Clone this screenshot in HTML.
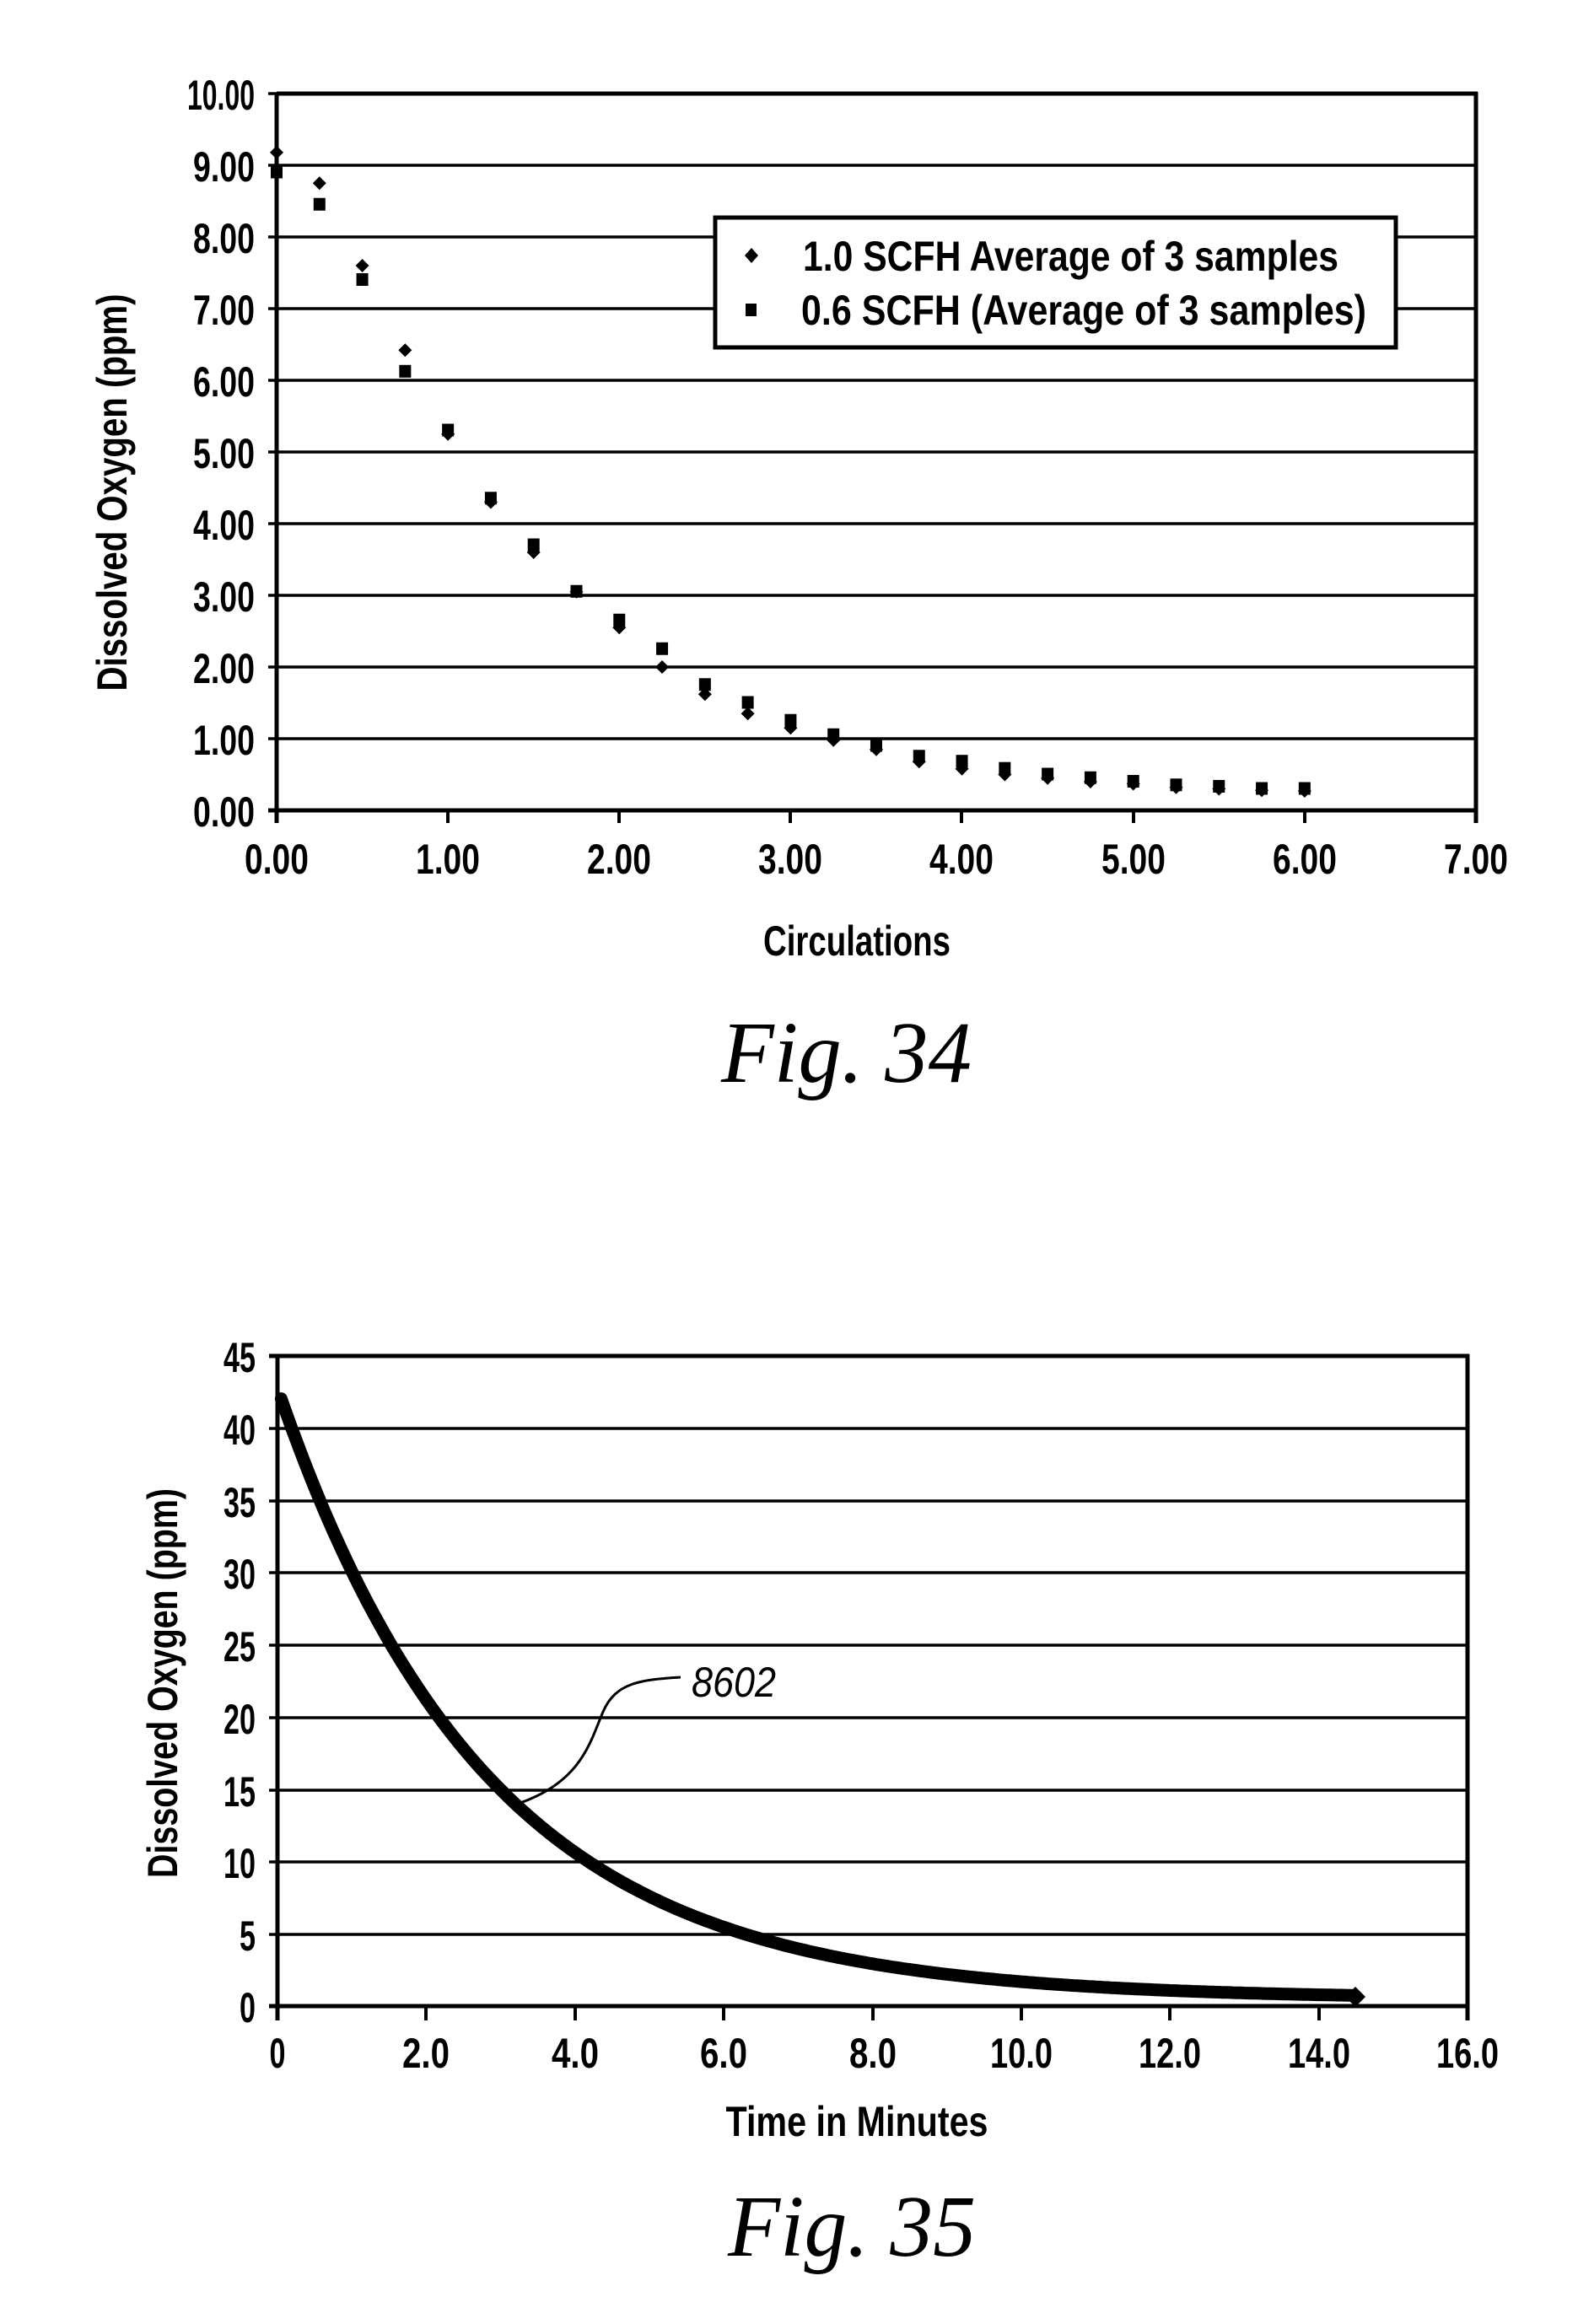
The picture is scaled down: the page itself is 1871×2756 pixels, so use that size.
<!DOCTYPE html>
<html><head><meta charset="utf-8"><style>
html,body{margin:0;padding:0;background:#fff;}
svg{display:block;}
text{font-family:"Liberation Sans",sans-serif;fill:#000;font-weight:bold;}
.it{font-family:"Liberation Serif",serif;font-style:italic;font-weight:normal;}
</style></head><body>
<svg width="1871" height="2756" viewBox="0 0 1871 2756" xmlns="http://www.w3.org/2000/svg">
<g id="c1" stroke="#000" fill="none">
<g stroke-width="3.5">
<line x1="318" y1="196" x2="1750" y2="196"/><line x1="318" y1="281" x2="1750" y2="281"/>
<line x1="318" y1="366" x2="1750" y2="366"/><line x1="318" y1="451" x2="1750" y2="451"/>
<line x1="318" y1="536" x2="1750" y2="536"/><line x1="318" y1="621" x2="1750" y2="621"/>
<line x1="318" y1="706" x2="1750" y2="706"/><line x1="318" y1="791" x2="1750" y2="791"/>
<line x1="318" y1="876" x2="1750" y2="876"/><line x1="318" y1="111" x2="328" y2="111"/>
</g>
<g stroke-width="5">
<line x1="318" y1="961" x2="1750" y2="961"/>
<line x1="328" y1="111" x2="328" y2="976"/>
<line x1="328" y1="111" x2="1752" y2="111"/>
<line x1="1750" y1="109" x2="1750" y2="976"/>
</g>
<g stroke-width="4">
<line x1="531" y1="961" x2="531" y2="976"/><line x1="734" y1="961" x2="734" y2="976"/>
<line x1="937" y1="961" x2="937" y2="976"/><line x1="1140" y1="961" x2="1140" y2="976"/>
<line x1="1344" y1="961" x2="1344" y2="976"/><line x1="1547" y1="961" x2="1547" y2="976"/>
</g>
<rect x="848" y="258" width="807" height="154" fill="#fff" stroke-width="5"/>
</g>
<g font-size="50">
<text x="302" y="130" text-anchor="end" textLength="80" lengthAdjust="spacingAndGlyphs">10.00</text>
<text x="302" y="215" text-anchor="end" textLength="73" lengthAdjust="spacingAndGlyphs">9.00</text>
<text x="302" y="300" text-anchor="end" textLength="73" lengthAdjust="spacingAndGlyphs">8.00</text>
<text x="302" y="385" text-anchor="end" textLength="73" lengthAdjust="spacingAndGlyphs">7.00</text>
<text x="302" y="470" text-anchor="end" textLength="73" lengthAdjust="spacingAndGlyphs">6.00</text>
<text x="302" y="555" text-anchor="end" textLength="73" lengthAdjust="spacingAndGlyphs">5.00</text>
<text x="302" y="640" text-anchor="end" textLength="73" lengthAdjust="spacingAndGlyphs">4.00</text>
<text x="302" y="725" text-anchor="end" textLength="73" lengthAdjust="spacingAndGlyphs">3.00</text>
<text x="302" y="810" text-anchor="end" textLength="73" lengthAdjust="spacingAndGlyphs">2.00</text>
<text x="302" y="895" text-anchor="end" textLength="73" lengthAdjust="spacingAndGlyphs">1.00</text>
<text x="302" y="980" text-anchor="end" textLength="73" lengthAdjust="spacingAndGlyphs">0.00</text>
<g text-anchor="middle">
<text x="328" y="1036" textLength="76" lengthAdjust="spacingAndGlyphs">0.00</text>
<text x="531" y="1036" textLength="76" lengthAdjust="spacingAndGlyphs">1.00</text>
<text x="734" y="1036" textLength="76" lengthAdjust="spacingAndGlyphs">2.00</text>
<text x="937" y="1036" textLength="76" lengthAdjust="spacingAndGlyphs">3.00</text>
<text x="1140" y="1036" textLength="76" lengthAdjust="spacingAndGlyphs">4.00</text>
<text x="1344" y="1036" textLength="76" lengthAdjust="spacingAndGlyphs">5.00</text>
<text x="1547" y="1036" textLength="76" lengthAdjust="spacingAndGlyphs">6.00</text>
<text x="1750" y="1036" textLength="76" lengthAdjust="spacingAndGlyphs">7.00</text>
</g>
<text x="1016" y="1133" text-anchor="middle" textLength="222" lengthAdjust="spacingAndGlyphs">Circulations</text>
<text transform="translate(150,584) rotate(-90)" text-anchor="middle" textLength="471" lengthAdjust="spacingAndGlyphs">Dissolved  Oxygen  (ppm)</text>
<text x="952" y="321" textLength="635" lengthAdjust="spacingAndGlyphs">1.0  SCFH  Average  of  3  samples</text>
<text x="950" y="385" textLength="670" lengthAdjust="spacingAndGlyphs">0.6  SCFH  (Average  of  3  samples)</text>
</g>
<path d="M891,294 l8,9 l-8,9 l-8,-9z"/>
<rect x="884" y="360" width="13" height="15"/>
<g id="pts"></g>
<text class="it" x="855" y="1283" font-size="104" textLength="297" lengthAdjust="spacingAndGlyphs">Fig.  34</text>

<g stroke="#000" fill="none">
<g stroke-width="3.5">
<line x1="319" y1="1694" x2="1740" y2="1694"/><line x1="319" y1="1780" x2="1740" y2="1780"/>
<line x1="319" y1="1865" x2="1740" y2="1865"/><line x1="319" y1="1951" x2="1740" y2="1951"/>
<line x1="319" y1="2037" x2="1740" y2="2037"/><line x1="319" y1="2123" x2="1740" y2="2123"/>
<line x1="319" y1="2208" x2="1740" y2="2208"/><line x1="319" y1="2294" x2="1740" y2="2294"/>
</g>
<g stroke-width="5">
<line x1="319" y1="1608" x2="1742" y2="1608"/>
<line x1="319" y1="2379" x2="1742" y2="2379"/>
<line x1="329" y1="1606" x2="329" y2="2396"/>
<line x1="1740" y1="1606" x2="1740" y2="2396"/>
</g>
<g stroke-width="4">
<line x1="505" y1="2379" x2="505" y2="2396"/><line x1="682" y1="2379" x2="682" y2="2396"/>
<line x1="858" y1="2379" x2="858" y2="2396"/><line x1="1035" y1="2379" x2="1035" y2="2396"/>
<line x1="1211" y1="2379" x2="1211" y2="2396"/><line x1="1387" y1="2379" x2="1387" y2="2396"/>
<line x1="1564" y1="2379" x2="1564" y2="2396"/>
</g>
<path id="curve" stroke-width="15" stroke-linejoin="round" stroke-linecap="round" d=""/>
<path stroke-width="3" d="M617,2138 C690,2112 700,2065 715,2030 S760,1992 807,1989"/>
</g>
<g font-size="50">
<g text-anchor="end">
<text x="303" y="1627" textLength="38" lengthAdjust="spacingAndGlyphs">45</text>
<text x="303" y="1713" textLength="38" lengthAdjust="spacingAndGlyphs">40</text>
<text x="303" y="1799" textLength="38" lengthAdjust="spacingAndGlyphs">35</text>
<text x="303" y="1884" textLength="38" lengthAdjust="spacingAndGlyphs">30</text>
<text x="303" y="1970" textLength="38" lengthAdjust="spacingAndGlyphs">25</text>
<text x="303" y="2056" textLength="38" lengthAdjust="spacingAndGlyphs">20</text>
<text x="303" y="2142" textLength="38" lengthAdjust="spacingAndGlyphs">15</text>
<text x="303" y="2227" textLength="38" lengthAdjust="spacingAndGlyphs">10</text>
<text x="303" y="2313" textLength="19" lengthAdjust="spacingAndGlyphs">5</text>
<text x="303" y="2398" textLength="19" lengthAdjust="spacingAndGlyphs">0</text>
</g>
<g text-anchor="middle">
<text x="329" y="2452" textLength="19" lengthAdjust="spacingAndGlyphs">0</text>
<text x="505" y="2452" textLength="56" lengthAdjust="spacingAndGlyphs">2.0</text>
<text x="682" y="2452" textLength="56" lengthAdjust="spacingAndGlyphs">4.0</text>
<text x="858" y="2452" textLength="56" lengthAdjust="spacingAndGlyphs">6.0</text>
<text x="1035" y="2452" textLength="56" lengthAdjust="spacingAndGlyphs">8.0</text>
<text x="1211" y="2452" textLength="74" lengthAdjust="spacingAndGlyphs">10.0</text>
<text x="1387" y="2452" textLength="74" lengthAdjust="spacingAndGlyphs">12.0</text>
<text x="1564" y="2452" textLength="74" lengthAdjust="spacingAndGlyphs">14.0</text>
<text x="1740" y="2452" textLength="74" lengthAdjust="spacingAndGlyphs">16.0</text>
</g>
<text x="1016" y="2533" text-anchor="middle" textLength="311" lengthAdjust="spacingAndGlyphs">Time  in  Minutes</text>
<text transform="translate(210,1996) rotate(-90)" text-anchor="middle" textLength="462" lengthAdjust="spacingAndGlyphs">Dissolved  Oxygen  (ppm)</text>
</g>
<text x="820" y="2012" font-size="50" font-style="italic" style="font-weight:normal" textLength="100" lengthAdjust="spacingAndGlyphs">8602</text>
<path d="M1607,2356 l12,12 l-12,12 l-12,-12z"/>
<text class="it" x="863" y="2675" font-size="104" textLength="294" lengthAdjust="spacingAndGlyphs">Fig.  35</text>
</svg>
<script>
(function(){
var ns="http://www.w3.org/2000/svg";
var d=[9.18,8.75,7.6,6.42,5.25,4.3,3.6,3.05,2.55,2.0,1.62,1.35,1.15,0.98,0.85,0.68,0.58,0.5,0.45,0.4,0.37,0.32,0.3,0.28,0.27];
var s=[8.9,8.45,7.4,6.12,5.3,4.35,3.7,3.05,2.65,2.25,1.75,1.5,1.25,1.05,0.9,0.75,0.68,0.58,0.5,0.45,0.4,0.35,0.33,0.3,0.3];
var g=document.getElementById("pts");
for(var i=0;i<25;i++){
 var x=328+i*0.25*203.14;
 var ys=961-s[i]*85, yd=961-d[i]*85;
 var r=document.createElementNS(ns,"rect");
 r.setAttribute("x",x-7);r.setAttribute("y",ys-8);r.setAttribute("width",14);r.setAttribute("height",15);
 g.appendChild(r);
 var p=document.createElementNS(ns,"path");
 p.setAttribute("d","M"+x+","+(yd-8)+" l8,8 l-8,8 l-8,-8z");
 g.appendChild(p);
}
var pd="";
for(var t=0.05;t<=14.5;t+=0.05){
 var v=0.5+42.3*Math.exp(-t/2.8);
 var X=329+t*88.2, Y=2379-v*17.13;
 pd+=(pd?"L":"M")+X.toFixed(1)+","+Y.toFixed(1);
}
document.getElementById("curve").setAttribute("d",pd);
})();
</script>
</body></html>
